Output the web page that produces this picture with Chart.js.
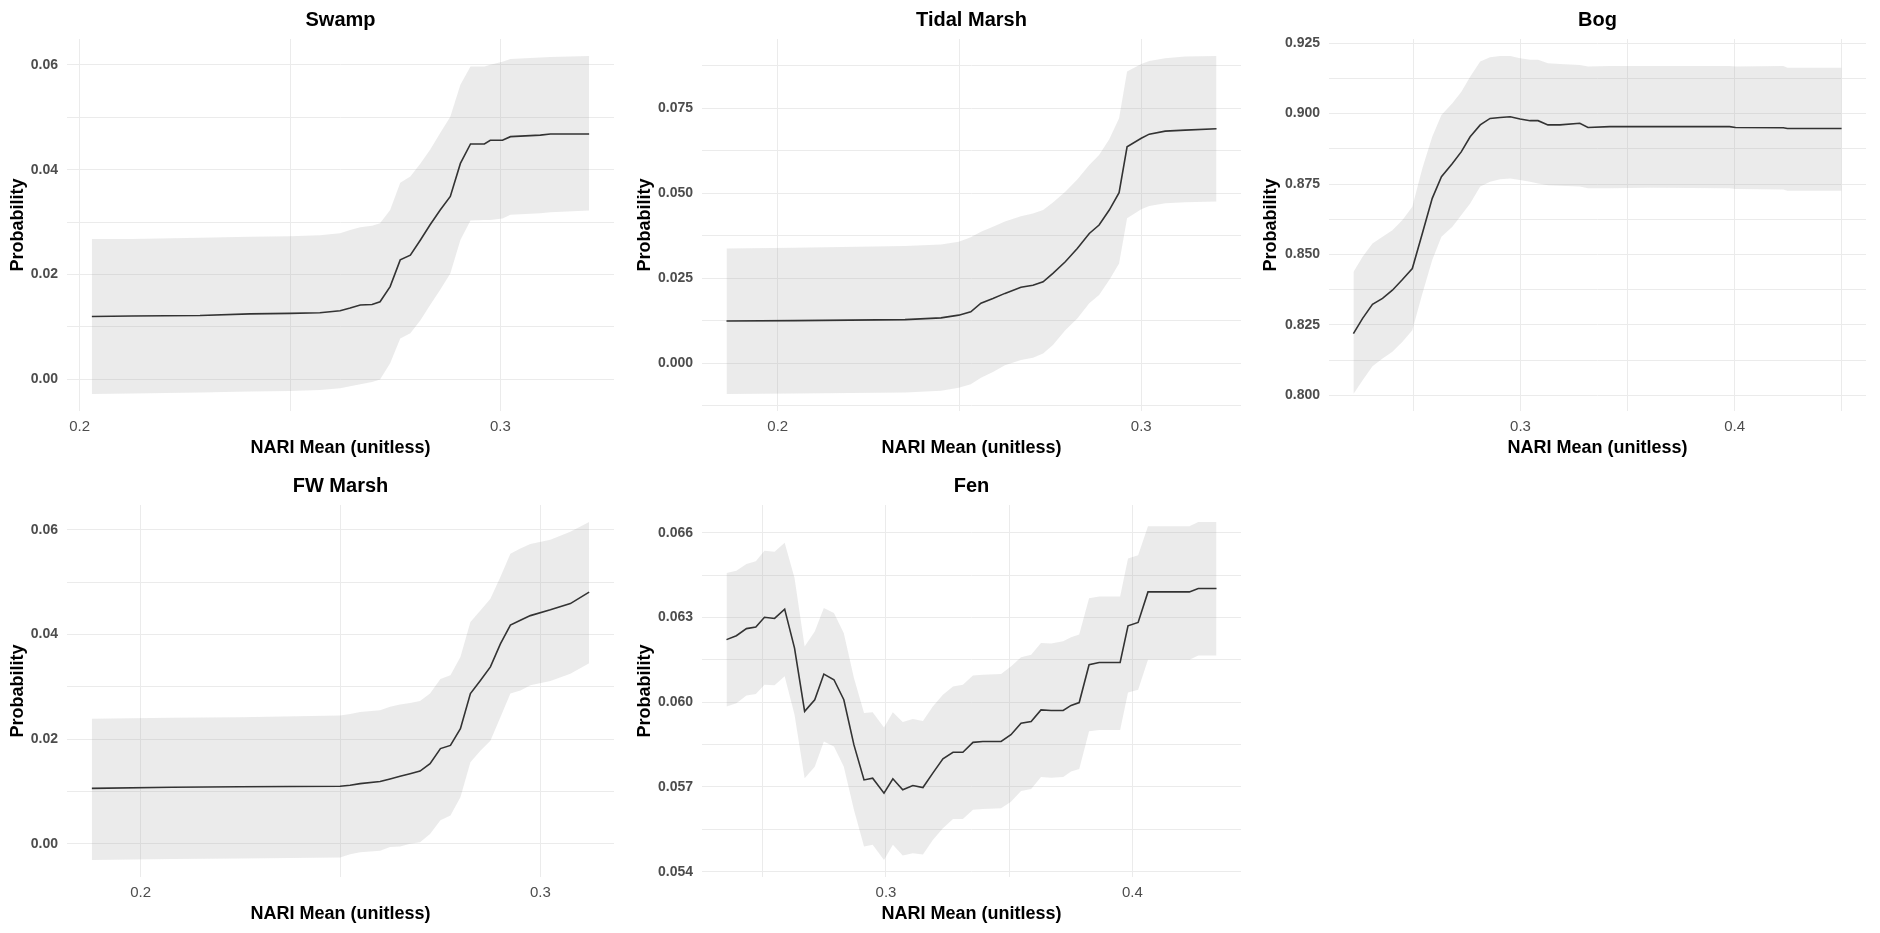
<!DOCTYPE html>
<html>
<head>
<meta charset="utf-8">
<title>NARI Mean partial dependence</title>
<script src="https://cdn.jsdelivr.net/npm/chart.js@4/dist/chart.umd.min.js"></script>
<style>
  html, body { margin: 0; padding: 0; background: #fff; }
  #wrap { position: relative; width: 1880px; height: 933px; overflow: hidden; }
  #wrap canvas { position: absolute; }
</style>
</head>
<body>
<div id="wrap"></div>
<script>
// values
const swampX = [0.2029, 0.2124, 0.2286, 0.2405, 0.2500, 0.2571, 0.2619, 0.2643, 0.2667, 0.2695, 0.2714, 0.2738, 0.2762, 0.2786, 0.2810, 0.2833, 0.2857, 0.2881, 0.2905, 0.2929, 0.2962, 0.2976, 0.3005, 0.3024, 0.3095, 0.3119, 0.3211];
const swampMean = [0.0120, 0.0121, 0.0122, 0.0125, 0.0126, 0.0127, 0.0131, 0.0136, 0.0142, 0.0143, 0.0148, 0.0177, 0.0228, 0.0237, 0.0266, 0.0295, 0.0323, 0.0349, 0.0412, 0.0449, 0.0449, 0.0456, 0.0456, 0.0463, 0.0466, 0.0468, 0.0468];
const swampLow = [-0.0028, -0.0027, -0.0025, -0.0023, -0.0022, -0.0020, -0.0017, -0.0013, -0.0009, -0.0005, 0.0000, 0.0031, 0.0078, 0.0088, 0.0113, 0.0142, 0.0171, 0.0202, 0.0266, 0.0303, 0.0304, 0.0304, 0.0307, 0.0314, 0.0317, 0.0319, 0.0322];
const swampHigh = [0.0268, 0.0268, 0.0270, 0.0272, 0.0273, 0.0275, 0.0279, 0.0285, 0.0290, 0.0293, 0.0298, 0.0323, 0.0375, 0.0387, 0.0412, 0.0438, 0.0470, 0.0501, 0.0562, 0.0597, 0.0597, 0.0600, 0.0606, 0.0611, 0.0614, 0.0615, 0.0617];
const swampXTicks = [0.2, 0.3];
const swampYTicks = [0, 0.02, 0.04, 0.06];

const tidalX = [0.1859, 0.2046, 0.2350, 0.2449, 0.2498, 0.2531, 0.2559, 0.2592, 0.2625, 0.2669, 0.2702, 0.2730, 0.2757, 0.2791, 0.2824, 0.2857, 0.2884, 0.2912, 0.2939, 0.2961, 0.3000, 0.3022, 0.3066, 0.3121, 0.3207];
const tidalMean = [0.0125, 0.0126, 0.0129, 0.0134, 0.0142, 0.0152, 0.0177, 0.0191, 0.0206, 0.0224, 0.0230, 0.0240, 0.0265, 0.0299, 0.0338, 0.0382, 0.0407, 0.0451, 0.0502, 0.0637, 0.0662, 0.0674, 0.0683, 0.0686, 0.0690];
const tidalLow = [-0.0090, -0.0088, -0.0085, -0.0080, -0.0071, -0.0061, -0.0042, -0.0025, -0.0005, 0.0010, 0.0017, 0.0029, 0.0054, 0.0098, 0.0132, 0.0177, 0.0201, 0.0245, 0.0294, 0.0427, 0.0453, 0.0463, 0.0471, 0.0474, 0.0476];
const tidalHigh = [0.0338, 0.0340, 0.0345, 0.0350, 0.0358, 0.0371, 0.0387, 0.0402, 0.0417, 0.0433, 0.0441, 0.0451, 0.0473, 0.0505, 0.0541, 0.0583, 0.0613, 0.0659, 0.0721, 0.0858, 0.0880, 0.0889, 0.0897, 0.0902, 0.0904];
const tidalXTicks = [0.2, 0.3];
const tidalYTicks = [0, 0.025, 0.05, 0.075];

const bogX = [0.2220, 0.2263, 0.2309, 0.2356, 0.2402, 0.2449, 0.2495, 0.2542, 0.2588, 0.2631, 0.2682, 0.2724, 0.2765, 0.2812, 0.2858, 0.2905, 0.2952, 0.2998, 0.3045, 0.3082, 0.3128, 0.3184, 0.3277, 0.3315, 0.3417, 0.3603, 0.3976, 0.4004, 0.4227, 0.4246, 0.4499];
const bogMean = [0.8219, 0.8273, 0.8323, 0.8344, 0.8373, 0.8411, 0.8450, 0.8575, 0.8699, 0.8776, 0.8823, 0.8865, 0.8918, 0.8960, 0.8983, 0.8986, 0.8989, 0.8981, 0.8975, 0.8975, 0.8960, 0.8960, 0.8966, 0.8951, 0.8954, 0.8954, 0.8954, 0.8951, 0.8950, 0.8947, 0.8947];
const bogLow = [0.8004, 0.8053, 0.8103, 0.8130, 0.8154, 0.8190, 0.8231, 0.8361, 0.8480, 0.8563, 0.8598, 0.8640, 0.8681, 0.8741, 0.8758, 0.8767, 0.8770, 0.8764, 0.8758, 0.8752, 0.8746, 0.8744, 0.8741, 0.8735, 0.8735, 0.8737, 0.8735, 0.8732, 0.8731, 0.8726, 0.8726];
const bogHigh = [0.8438, 0.8492, 0.8539, 0.8563, 0.8586, 0.8622, 0.8669, 0.8806, 0.8918, 0.8995, 0.9037, 0.9078, 0.9131, 0.9185, 0.9200, 0.9205, 0.9205, 0.9197, 0.9191, 0.9191, 0.9179, 0.9176, 0.9173, 0.9167, 0.9169, 0.9169, 0.9169, 0.9167, 0.9169, 0.9163, 0.9163];
const bogXTicks = [0.3, 0.4];
const bogYTicks = [0.8, 0.825, 0.85, 0.875, 0.9, 0.925];

const fwX = [0.1878, 0.2078, 0.2248, 0.2499, 0.2524, 0.2549, 0.2599, 0.2624, 0.2649, 0.2674, 0.2699, 0.2724, 0.2750, 0.2775, 0.2800, 0.2825, 0.2850, 0.2875, 0.2900, 0.2925, 0.2950, 0.2975, 0.3025, 0.3075, 0.3122];
const fwMean = [0.0106, 0.0108, 0.0109, 0.0110, 0.0112, 0.0115, 0.0119, 0.0124, 0.0129, 0.0134, 0.0139, 0.0153, 0.0182, 0.0188, 0.0220, 0.0287, 0.0312, 0.0338, 0.0382, 0.0418, 0.0427, 0.0436, 0.0447, 0.0459, 0.0481];
const fwLow = [-0.0031, -0.0029, -0.0028, -0.0026, -0.0020, -0.0016, -0.0013, -0.0006, -0.0005, 0.0000, 0.0003, 0.0019, 0.0045, 0.0054, 0.0089, 0.0156, 0.0178, 0.0197, 0.0242, 0.0287, 0.0293, 0.0303, 0.0311, 0.0325, 0.0345];
const fwHigh = [0.0239, 0.0241, 0.0242, 0.0245, 0.0248, 0.0252, 0.0255, 0.0262, 0.0266, 0.0269, 0.0273, 0.0287, 0.0315, 0.0322, 0.0357, 0.0424, 0.0446, 0.0468, 0.0510, 0.0554, 0.0564, 0.0573, 0.0581, 0.0596, 0.0615];
const fwXTicks = [0.2, 0.3];
const fwYTicks = [0, 0.02, 0.04, 0.06];

const fenX = [0.2353, 0.2393, 0.2434, 0.2472, 0.2507, 0.2548, 0.2589, 0.2629, 0.2670, 0.2711, 0.2748, 0.2789, 0.2829, 0.2870, 0.2911, 0.2946, 0.2992, 0.3028, 0.3068, 0.3109, 0.3150, 0.3190, 0.3231, 0.3272, 0.3312, 0.3353, 0.3393, 0.3467, 0.3507, 0.3548, 0.3589, 0.3629, 0.3670, 0.3719, 0.3751, 0.3784, 0.3824, 0.3865, 0.3950, 0.3982, 0.4023, 0.4063, 0.4231, 0.4267, 0.4341];
const fenMean = [0.06222, 0.06236, 0.06261, 0.06267, 0.06301, 0.06297, 0.06330, 0.06192, 0.05968, 0.06009, 0.06100, 0.06080, 0.06009, 0.05849, 0.05725, 0.05731, 0.05678, 0.05729, 0.05690, 0.05705, 0.05698, 0.05749, 0.05800, 0.05823, 0.05823, 0.05858, 0.05861, 0.05861, 0.05885, 0.05926, 0.05932, 0.05973, 0.05971, 0.05971, 0.05989, 0.05999, 0.06133, 0.06141, 0.06141, 0.06271, 0.06283, 0.06391, 0.06391, 0.06403, 0.06403];
const fenLow = [0.05985, 0.05997, 0.06024, 0.06029, 0.06062, 0.06060, 0.06092, 0.05956, 0.05731, 0.05772, 0.05861, 0.05843, 0.05772, 0.05619, 0.05489, 0.05495, 0.05441, 0.05495, 0.05457, 0.05465, 0.05461, 0.05512, 0.05554, 0.05587, 0.05587, 0.05619, 0.05622, 0.05625, 0.05648, 0.05686, 0.05693, 0.05735, 0.05733, 0.05735, 0.05755, 0.05764, 0.05897, 0.05902, 0.05902, 0.06035, 0.06044, 0.06151, 0.06151, 0.06166, 0.06166];
const fenHigh = [0.06458, 0.06466, 0.06490, 0.06500, 0.06537, 0.06533, 0.06565, 0.06440, 0.06198, 0.06251, 0.06334, 0.06316, 0.06245, 0.06086, 0.05962, 0.05965, 0.05911, 0.05965, 0.05930, 0.05941, 0.05934, 0.05985, 0.06027, 0.06056, 0.06062, 0.06095, 0.06098, 0.06100, 0.06127, 0.06160, 0.06168, 0.06210, 0.06208, 0.06216, 0.06230, 0.06240, 0.06369, 0.06375, 0.06375, 0.06509, 0.06521, 0.06624, 0.06624, 0.06639, 0.06639];
const fenXTicks = [0.3, 0.4];
const fenYTicks = [0.054, 0.057, 0.06, 0.063, 0.066];

const panels = [
  {title: 'Swamp', x: swampX, mean: swampMean, low: swampLow, high: swampHigh, xTicks: swampXTicks, yTicks: swampYTicks, yDigits: 2},
  {title: 'Tidal Marsh', x: tidalX, mean: tidalMean, low: tidalLow, high: tidalHigh, xTicks: tidalXTicks, yTicks: tidalYTicks, yDigits: 3},
  {title: 'Bog', x: bogX, mean: bogMean, low: bogLow, high: bogHigh, xTicks: bogXTicks, yTicks: bogYTicks, yDigits: 3},
  {title: 'FW Marsh', x: fwX, mean: fwMean, low: fwLow, high: fwHigh, xTicks: fwXTicks, yTicks: fwYTicks, yDigits: 2},
  {title: 'Fen', x: fenX, mean: fenMean, low: fenLow, high: fenHigh, xTicks: fenXTicks, yTicks: fenYTicks, yDigits: 3},
];

// where each panel sits on the page
const boxes = [
  {left: 0, top: 0, width: 627, axisW: 67, padRight: 13},
  {left: 627, top: 0, width: 626, axisW: 75, padRight: 12},
  {left: 1253, top: 0, width: 627, axisW: 76, padRight: 14},
  {left: 0, top: 466, width: 627, axisW: 67, padRight: 13},
  {left: 627, top: 466, width: 626, axisW: 75, padRight: 12},
];

const FONT = '"Liberation Sans", Arial, Helvetica, sans-serif';
const GRID = '#ebebeb';

// ggplot-style 5% expansion of the data range
function expand(values) {
  const lo = Math.min(...values);
  const hi = Math.max(...values);
  const d = (hi - lo) * 0.05;
  return [lo - d, hi + d];
}

// major ticks plus the minor grid lines halfway between them
function gridTicks(major, min, max) {
  const half = (major[1] - major[0]) / 2;
  const out = [];
  for (let k = -30; k <= 30; k++) {
    const v = +(major[0] + k * half).toFixed(6);
    if (v >= min - 1e-9 && v <= max + 1e-9) {
      out.push({value: v, minor: k % 2 !== 0});
    }
  }
  return out;
}

const points = (xs, ys) => xs.map((x, i) => ({x, y: ys[i]}));

const panelTitle = {
  id: 'panelTitle',
  afterDraw(chart, args, opts) {
    const {ctx, chartArea} = chart;
    ctx.save();
    ctx.font = 'bold 20px ' + FONT;
    ctx.fillStyle = '#000';
    ctx.textAlign = 'center';
    ctx.textBaseline = 'middle';
    ctx.fillText(opts.text, (chartArea.left + chartArea.right) / 2, 20);
    ctx.restore();
  }
};

function drawPanel(p, box) {
  const canvas = document.createElement('canvas');
  canvas.width = box.width;
  canvas.height = 466;
  canvas.style.left = box.left + 'px';
  canvas.style.top = box.top + 'px';
  document.getElementById('wrap').appendChild(canvas);

  const [xMin, xMax] = expand(p.x);
  const [yMin, yMax] = expand(p.low.concat(p.high, p.mean));

  new Chart(canvas.getContext('2d'), {
    type: 'line',
    data: {
      datasets: [
        {
          label: 'mean',
          data: points(p.x, p.mean),
          borderColor: '#333333',
          borderWidth: 1.6,
          pointRadius: 0,
          tension: 0,
          fill: false,
        },
        {
          label: 'lower',
          data: points(p.x, p.low),
          borderColor: 'rgba(0,0,0,0)',
          pointRadius: 0,
          fill: false,
        },
        {
          label: 'upper',
          data: points(p.x, p.high),
          borderColor: 'rgba(0,0,0,0)',
          backgroundColor: 'rgba(153,153,153,0.2)',
          pointRadius: 0,
          fill: '-1',
        },
      ]
    },
    options: {
      animation: false,
      responsive: false,
      events: [],
      layout: {padding: {top: 39, right: box.padRight, bottom: 0, left: 0}},
      plugins: {
        legend: {display: false},
        tooltip: {enabled: false},
        panelTitle: {text: p.title},
      },
      scales: {
        x: {
          type: 'linear',
          min: xMin,
          max: xMax,
          afterBuildTicks: s => { s.ticks = gridTicks(p.xTicks, xMin, xMax); },
          afterFit: s => { s.height = 55; },
          grid: {color: GRID, drawTicks: false},
          border: {display: false},
          ticks: {
            autoSkip: false,
            maxRotation: 0,
            padding: 7,
            color: '#4d4d4d',
            font: {family: FONT, size: 15},
            callback: (v, i, t) => t[i].minor ? '' : v.toFixed(1),
          },
          title: {
            display: true,
            text: 'NARI Mean (unitless)',
            color: '#000',
            font: {family: FONT, size: 18, weight: 'bold'},
            padding: {top: 0, bottom: 7},
          },
        },
        y: {
          type: 'linear',
          min: yMin,
          max: yMax,
          afterBuildTicks: s => { s.ticks = gridTicks(p.yTicks, yMin, yMax); },
          afterFit: s => { s.width = box.axisW; },
          grid: {color: GRID, drawTicks: false},
          border: {display: false},
          ticks: {
            autoSkip: false,
            padding: 9,
            color: '#4d4d4d',
            font: {family: FONT, size: 14, weight: 'bold'},
            callback: (v, i, t) => t[i].minor ? '' : v.toFixed(p.yDigits),
          },
          title: {
            display: true,
            text: 'Probability',
            color: '#000',
            font: {family: FONT, size: 18, weight: 'bold'},
            padding: {top: 7, bottom: 0},
          },
        },
      },
    },
    plugins: [panelTitle],
  });
}

panels.forEach((p, i) => drawPanel(p, boxes[i]));
</script>
</body>
</html>
